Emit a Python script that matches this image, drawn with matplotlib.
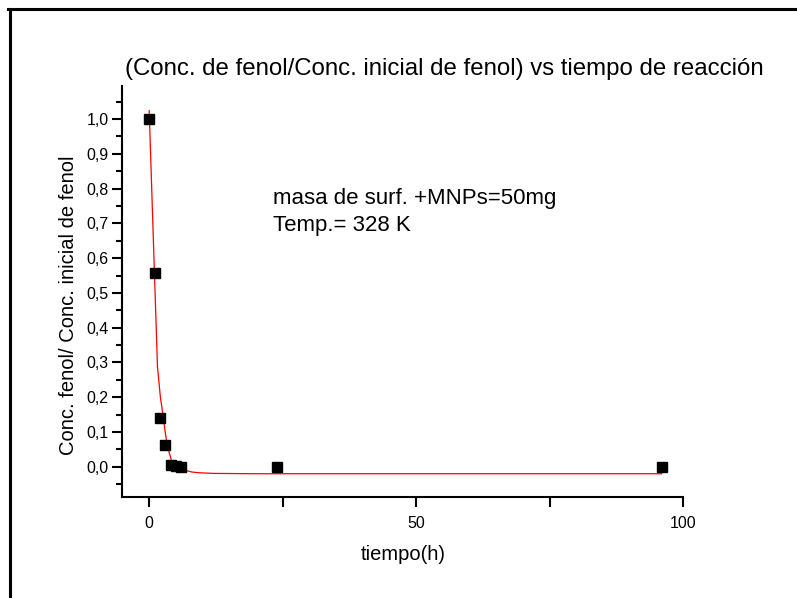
import matplotlib
matplotlib.use("Agg")
import matplotlib.pyplot as plt
from matplotlib.lines import Line2D
from matplotlib.ticker import MultipleLocator, FuncFormatter

plt.rcParams['font.family'] = ['Liberation Sans', 'DejaVu Sans']

# Data
tiempo = [0, 1, 2, 3, 4, 5, 6, 24, 96]
conc = [1.0, 0.556, 0.139, 0.064, 0.005, 0.003, 0.0, 0.0, 0.0]

# Fitted curve
fit_t = [0, 1.55, 2.1, 2.57, 3.0, 3.43, 4.25, 5.0, 6.4, 8.0, 9.2, 12, 20, 96]
fit_y = [1.024, 0.288, 0.20, 0.15, 0.10, 0.058, 0.014, 0.0, -0.009, -0.015, -0.017, -0.019, -0.02, -0.02]

title = "(Conc. de fenol/Conc. inicial de fenol) vs tiempo de reacción"
xlabel = "tiempo(h)"
ylabel = "Conc. fenol/ Conc. inicial de fenol"
note1 = "masa de surf. +MNPs=50mg"
note2 = "Temp.= 328 K"

fig = plt.figure(figsize=(7.97, 5.98), dpi=100)
ax = fig.add_axes([0.1537, 0.1694, 0.7033, 0.6868])

ax.plot(fit_t, fit_y, color='red', lw=0.9, zorder=2)
ax.plot(tiempo, conc, 's', color='black', ms=6.5, zorder=3)

ax.set_xlim(-5, 100)
ax.set_ylim(-0.086, 1.095)

ax.xaxis.set_major_locator(MultipleLocator(50))
ax.xaxis.set_minor_locator(MultipleLocator(25))
ax.yaxis.set_major_locator(MultipleLocator(0.1))
ax.yaxis.set_minor_locator(MultipleLocator(0.05))
ax.yaxis.set_major_formatter(FuncFormatter(lambda v, p: f"{v:.1f}".replace('.', ',').replace('-0,0', '0,0')))

for s in ['top', 'right']:
    ax.spines[s].set_visible(False)
for s in ['left', 'bottom']:
    ax.spines[s].set_linewidth(1.5)

ax.tick_params(axis='both', which='major', direction='out', length=7, width=1.5, labelsize=11.5, pad=3)
ax.tick_params(axis='both', which='minor', direction='out', length=4, width=1.5)
ax.tick_params(axis='x', which='minor', length=7)
ax.tick_params(axis='x', which='major', pad=7)

ax.set_xlabel(xlabel, fontsize=14.5, labelpad=10)
ax.set_ylabel(ylabel, fontsize=14.5)
ax.yaxis.set_label_coords(-0.080, 0.467)
fig.text(0.558, 0.885, title, fontsize=17.3, ha='center', va='center')

ax.text(0.269, 0.727, note1, transform=ax.transAxes, fontsize=16, ha='left', va='center')
ax.text(0.269, 0.661, note2, transform=ax.transAxes, fontsize=16, ha='left', va='center')

# Figure border (left and top visible)
W, H = 797, 598
fig.add_artist(Line2D([9.5 / W, 9.5 / W], [0, 1 - 8.5 / H], color='black', lw=2.2, transform=fig.transFigure))
fig.add_artist(Line2D([8 / W, 1], [1 - 8.5 / H, 1 - 8.5 / H], color='black', lw=2.2, transform=fig.transFigure))

fig.savefig("out.png", dpi=100)
